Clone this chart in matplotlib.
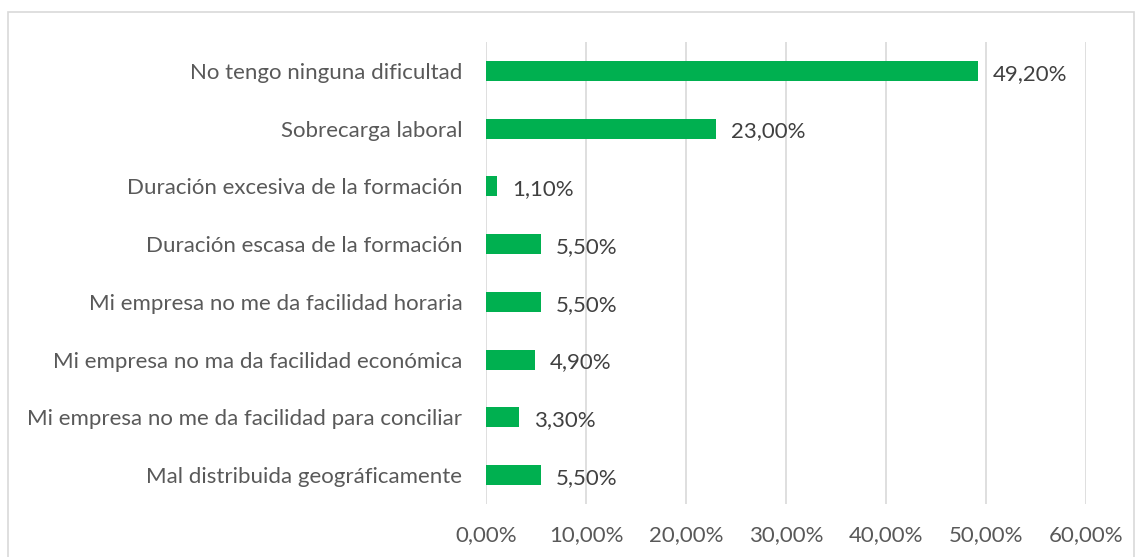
import matplotlib
matplotlib.use("Agg")
import matplotlib.pyplot as plt
from matplotlib.patches import Rectangle

categorias = [
    "No tengo ninguna dificultad",
    "Sobrecarga laboral",
    "Duración excesiva de la formación",
    "Duración escasa de la formación",
    "Mi empresa no me da facilidad horaria",
    "Mi empresa no ma da facilidad económica",
    "Mi empresa no me da facilidad para conciliar",
    "Mal distribuida geográficamente",
]
valores = [49.2, 23.0, 1.1, 5.5, 5.5, 4.9, 3.3, 5.5]
ticks = [0, 10, 20, 30, 40, 50, 60]

plt.rcParams['font.family'] = ['Lato', 'DejaVu Sans']
gris = '#595959'
fs = 16

fig = plt.figure(figsize=(11.37, 5.57), dpi=100)
ax = fig.add_axes([486/1137, 1 - 504/557, 600/1137, 462/557])

y = list(range(len(categorias)))[::-1]
ax.barh(y, valores, height=0.345, color='#00B050', zorder=3)
for yi, v in zip(y, valores):
    ax.text(v + 1.5, yi - 0.05, f"{v:.2f}%".replace('.', ','), va='center', ha='left',
            fontsize=fs, color='#404040')

ax.set_xlim(0, 60)
ax.set_ylim(-0.5, len(categorias) - 0.5)
ax.set_xticks(ticks)
ax.set_xticklabels([f"{t:.2f}%".replace('.', ',') for t in ticks], fontsize=fs, color=gris)
ax.set_yticks(y)
ax.set_yticklabels(categorias, fontsize=fs, color=gris)
ax.grid(axis='x', color='#d9d9d9', linewidth=1.2, zorder=0)
ax.tick_params(length=0, pad=15, axis='x')
ax.tick_params(length=0, pad=17, axis='y')
for s in ax.spines.values():
    s.set_visible(False)

fig.patches.append(Rectangle((8/1137, -0.01), 1126/1137, 1 - 12/557 + 0.01,
                             transform=fig.transFigure, fill=False,
                             edgecolor='#d9d9d9', linewidth=1.2))

fig.savefig("out.png", dpi=100)
